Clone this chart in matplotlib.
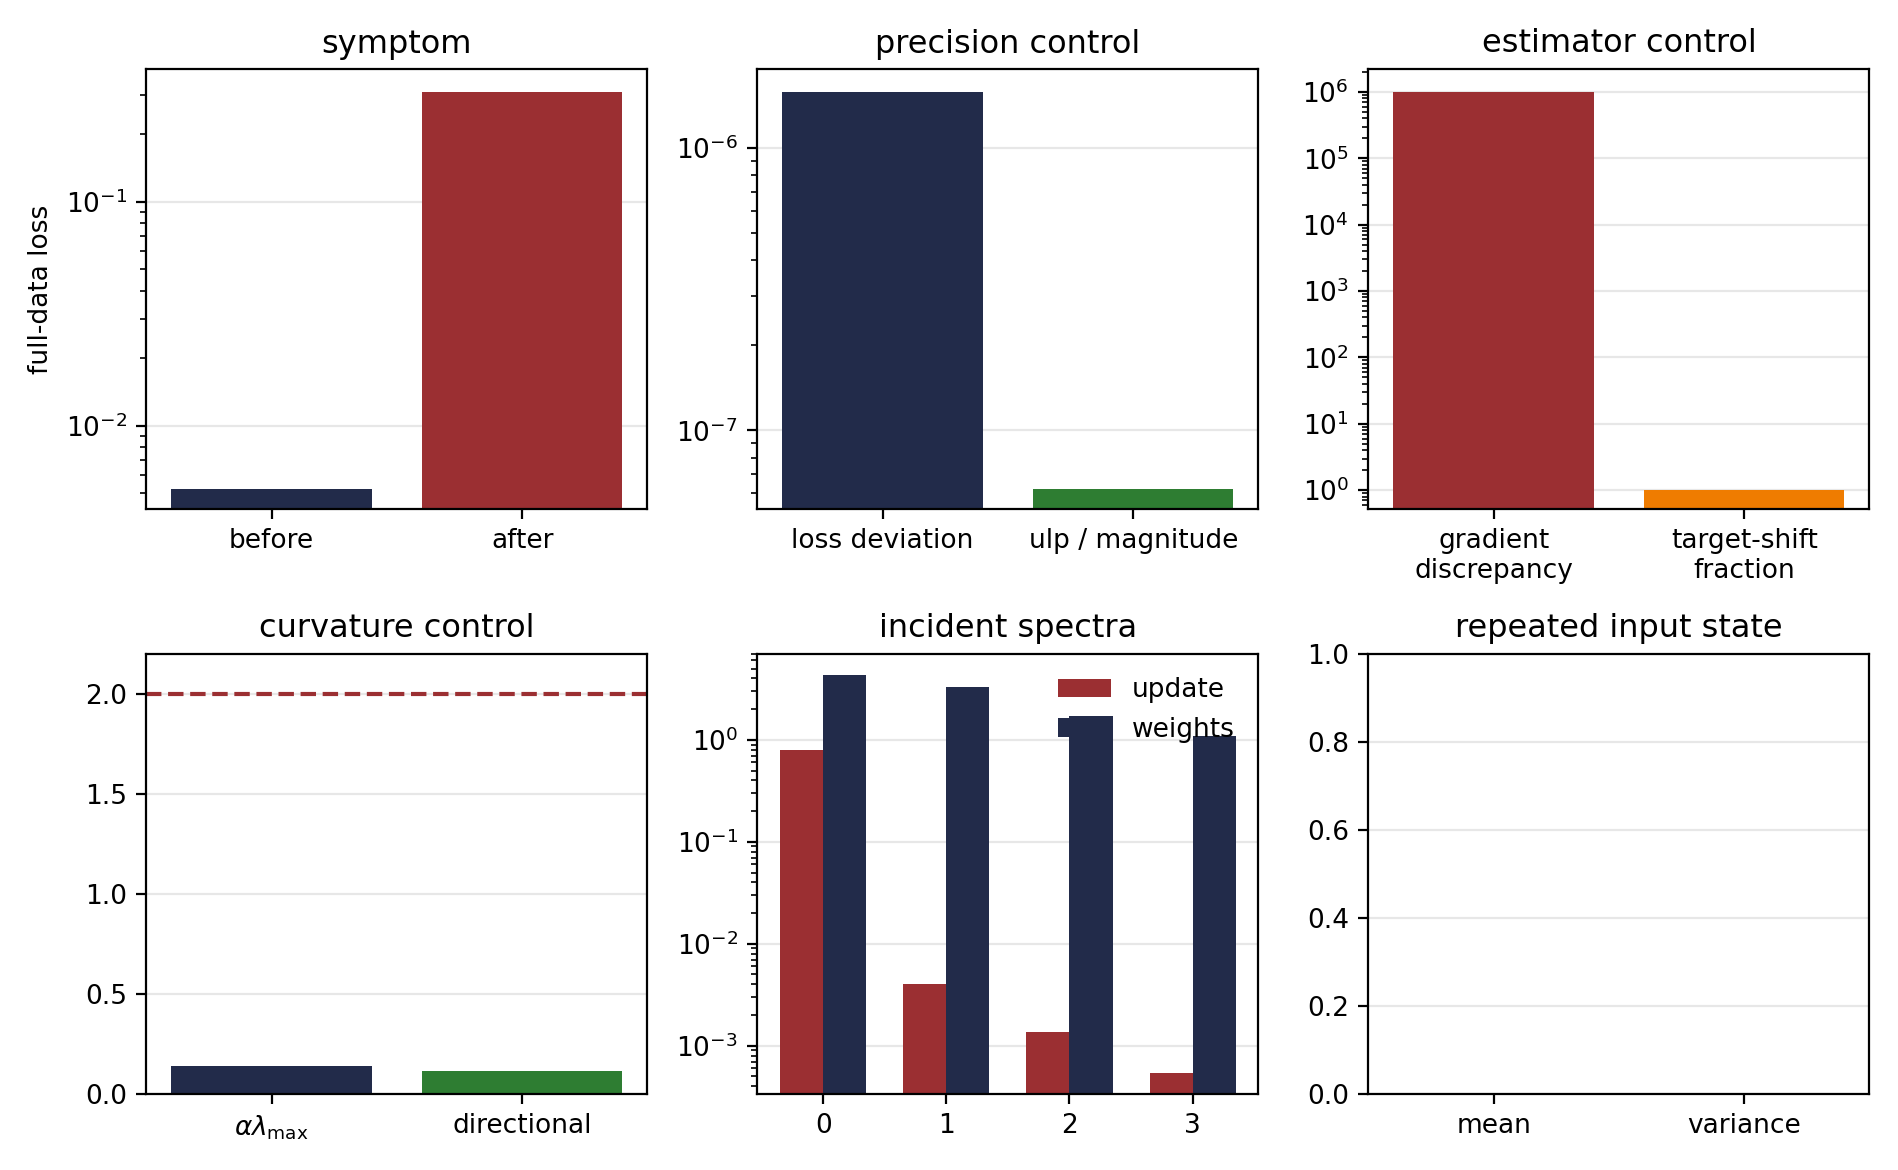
import matplotlib.pyplot as plt
import numpy as np

NAVY = '#222b4a'
RED = '#9b2f32'
GREEN = '#2e7d32'
ORANGE = '#ef7c00'

# --- data ---
symptom_lbl = ['before', 'after']
symptom_val = [0.0052, 0.31]
precision_lbl = ['loss deviation', 'ulp / magnitude']
precision_val = [1.58e-6, 6.2e-8]
estimator_lbl = ['gradient\ndiscrepancy', 'target-shift\nfraction']
estimator_val = [1.0e6, 1.0]
curvature_lbl = [r'$\alpha\lambda_{\max}$', 'directional']
curvature_val = [0.14, 0.115]
curvature_limit = 2.0
spectra_idx = [0, 1, 2, 3]
spectra_update = [0.8, 0.0040, 0.00135, 0.00054]
spectra_weights = [4.3, 3.3, 1.7, 1.08]
repeated_lbl = ['mean', 'variance']

plt.rc('font', size=9.5)
plt.rc('axes', titlesize=11.5)

fig, axs = plt.subplots(2, 3, figsize=(9.49, 5.85), dpi=200)

def bars(ax, lbl, val, clr, title, ylim=None, log=True):
    x = np.arange(len(lbl))
    ax.bar(x, val, color=clr, width=0.8)
    if log: ax.set_yscale('log')
    ax.set_xticks(x, lbl)
    ax.set_xlim(-0.5, 1.5)
    if ylim is not None: ax.set_ylim(*ylim)
    ax.set_title(title)
    ax.grid(True, axis='y', alpha=0.3)
    ax.set_axisbelow(True)

bars(axs[0, 0], symptom_lbl, symptom_val, [NAVY, RED], 'symptom', (0.00425, 0.39))
axs[0, 0].set_ylabel('full-data loss')
bars(axs[0, 1], precision_lbl, precision_val, [NAVY, GREEN], 'precision control', (5.26e-8, 1.9e-6))
bars(axs[0, 2], estimator_lbl, estimator_val, [RED, ORANGE], 'estimator control', (0.52, 2.2e6))
bars(axs[1, 0], curvature_lbl, curvature_val, [NAVY, GREEN], 'curvature control', (0, 2.2), log=False)
axs[1, 0].axhline(curvature_limit, color=RED, ls='--', lw=1.5)

ax = axs[1, 1]
x = np.array(spectra_idx)
w = 0.35
ax.bar(x - w/2, spectra_update, width=w, color=RED, label='update')
ax.bar(x + w/2, spectra_weights, width=w, color=NAVY, label='weights')
ax.set_yscale('log')
ax.set_ylim(3.4e-4, 7)
ax.set_xticks(x)
ax.set_title('incident spectra')
ax.grid(True, axis='y', alpha=0.3)
ax.set_axisbelow(True)
ax.legend(frameon=False, loc='upper right')

ax = axs[1, 2]
ax.set_xticks([0, 1], repeated_lbl)
ax.set_xlim(-0.5, 1.5)
ax.set_ylim(0, 1)
ax.set_title('repeated input state')
ax.grid(True, axis='y', alpha=0.3)

fig.tight_layout()
fig.savefig('out.png', dpi=200)
